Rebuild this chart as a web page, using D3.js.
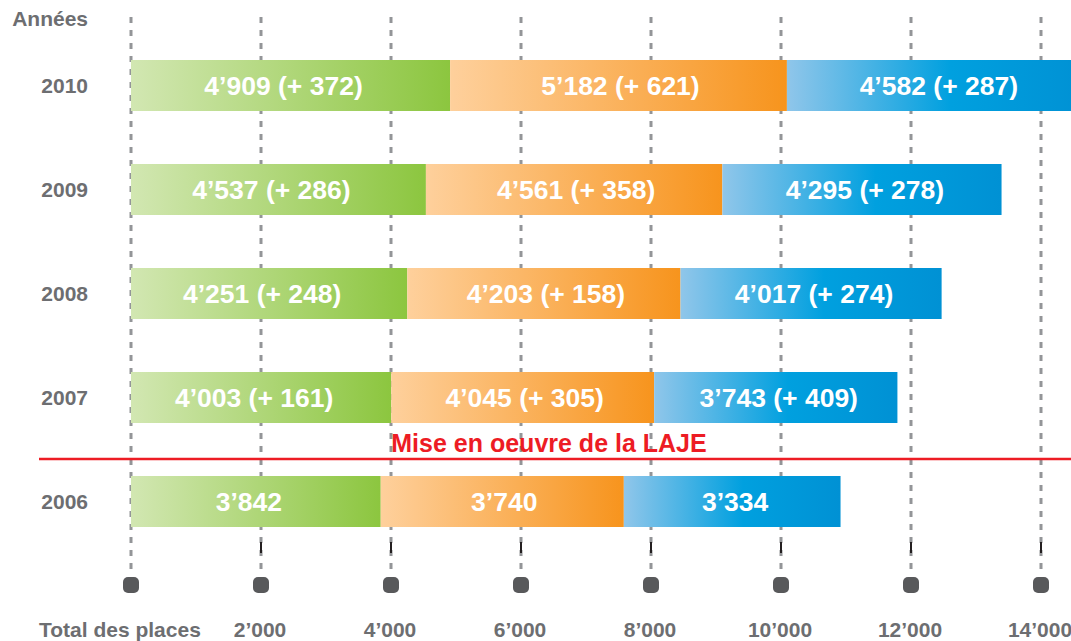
<!DOCTYPE html>
<html>
<head>
<meta charset="utf-8">
<script src="https://cdn.jsdelivr.net/npm/d3@7/dist/d3.min.js"></script>
<style>
  html, body { margin: 0; padding: 0; background: #fff; }
  svg { display: block; font-family: "Liberation Sans", Arial, Helvetica, sans-serif; }
</style>
</head>
<body>
<div id="chart"></div>
<script>
// Places d'accueil par année, trois catégories empilées.
const years = ["2010", "2009", "2008", "2007", "2006"];
const green  = [4909, 4537, 4251, 4003, 3842];
const orange = [5182, 4561, 4203, 4045, 3740];
const blue   = [4582, 4295, 4017, 3743, 3334];
const greenDelta  = [372, 286, 248, 161, null];
const orangeDelta = [621, 358, 158, 305, null];
const blueDelta   = [287, 278, 274, 409, null];
const ticks = [0, 2000, 4000, 6000, 8000, 10000, 12000, 14000];

const W = 1071, H = 641;
const GREY = "#6d6e71";

const svg = d3.select("#chart").append("svg")
  .attr("width", W).attr("height", H);

const defs = svg.append("defs");
function gradient(id, stops) {
  const g = defs.append("linearGradient").attr("id", id)
    .attr("x1", "0%").attr("x2", "100%").attr("y1", "0%").attr("y2", "0%");
  stops.forEach(([o, c]) => g.append("stop").attr("offset", o).attr("stop-color", c));
}
gradient("g-green",  [["0%", "#d2e7b2"], ["100%", "#8cc63f"]]);
gradient("g-orange", [["0%", "#fed09c"], ["100%", "#f7941d"]]);
gradient("g-blue",   [["0%", "#90c6ea"], ["55%", "#00a0df"], ["100%", "#0091d4"]]);

const x = d3.scaleLinear().domain([0, 14000]).range([131, 1041]);
const y = d3.scaleBand().domain(years).range([60, 527]).paddingInner(53 / 104).paddingOuter(0);

const fmt = v => d3.format(",")(v).replace(/,/g, "\u2019");

// dashed vertical grid
svg.append("g").selectAll("line").data(ticks).join("line")
  .attr("x1", d => x(d)).attr("x2", d => x(d))
  .attr("y1", 17).attr("y2", 569)
  .attr("stroke", "#939598").attr("stroke-width", 3)
  .attr("stroke-dasharray", "6 7");

// small dark marks above the dots
svg.append("g").selectAll("line").data(ticks.slice(1)).join("line")
  .attr("x1", d => x(d)).attr("x2", d => x(d))
  .attr("y1", 542).attr("y2", 553)
  .attr("stroke", "#231f20").attr("stroke-width", 2);

// dots
svg.append("g").selectAll("rect").data(ticks).join("rect")
  .attr("x", d => x(d) - 8).attr("y", 577)
  .attr("width", 16).attr("height", 16).attr("rx", 5)
  .attr("fill", "#58595b");

// stacked bars
const series = [
  { vals: green,  delta: greenDelta,  fill: "url(#g-green)",  shift: -7 },
  { vals: orange, delta: orangeDelta, fill: "url(#g-orange)", shift: 2 },
  { vals: blue,   delta: blueDelta,   fill: "url(#g-blue)",   shift: 3 },
];
const rows = years.map((yr, i) => {
  let acc = 0;
  return series.map(s => {
    const seg = { yr, x0: acc, x1: acc + s.vals[i], v: s.vals[i], d: s.delta[i], fill: s.fill, shift: s.shift };
    acc += s.vals[i];
    return seg;
  });
}).flat();

const gBars = svg.append("g");
gBars.selectAll("rect").data(rows).join("rect")
  .attr("x", d => x(d.x0))
  .attr("y", d => y(d.yr))
  .attr("width", d => x(d.x1) - x(d.x0))
  .attr("height", y.bandwidth())
  .attr("fill", d => d.fill);

gBars.selectAll("text").data(rows).join("text")
  .attr("x", d => (x(d.x0) + x(d.x1)) / 2 + d.shift)
  .attr("y", d => y(d.yr) + y.bandwidth() / 2 + 9.5)
  .attr("text-anchor", "middle")
  .attr("fill", "#fff").attr("font-weight", "bold").attr("font-size", 26.5)
  .text(d => d.d == null ? fmt(d.v) : `${fmt(d.v)} (+ ${d.d})`);

// year labels
svg.append("g").selectAll("text").data(years).join("text")
  .attr("x", 88).attr("y", d => y(d) + y.bandwidth() / 2 + 7.5)
  .attr("text-anchor", "end")
  .attr("fill", GREY).attr("font-weight", "bold").attr("font-size", 21)
  .text(d => d);

svg.append("text").attr("x", 88).attr("y", 26).attr("text-anchor", "end")
  .attr("fill", GREY).attr("font-weight", "bold").attr("font-size", 21)
  .text("Années");

// LAJE separator
svg.append("line").attr("x1", 39).attr("x2", W).attr("y1", 459).attr("y2", 459)
  .attr("stroke", "#ed1c24").attr("stroke-width", 2.5);
svg.append("text").attr("x", 549).attr("y", 452).attr("text-anchor", "middle")
  .attr("fill", "#ed1c24").attr("font-weight", "bold").attr("font-size", 25)
  .text("Mise en oeuvre de la LAJE");

// bottom axis labels
svg.append("g").selectAll("text").data(ticks.slice(1)).join("text")
  .attr("x", d => x(d) - 1).attr("y", 637)
  .attr("text-anchor", "middle")
  .attr("fill", GREY).attr("font-weight", "bold").attr("font-size", 21)
  .text(d => fmt(d));

svg.append("text").attr("x", 39).attr("y", 637)
  .attr("fill", GREY).attr("font-weight", "bold").attr("font-size", 21)
  .text("Total des places");
</script>
</body>
</html>
